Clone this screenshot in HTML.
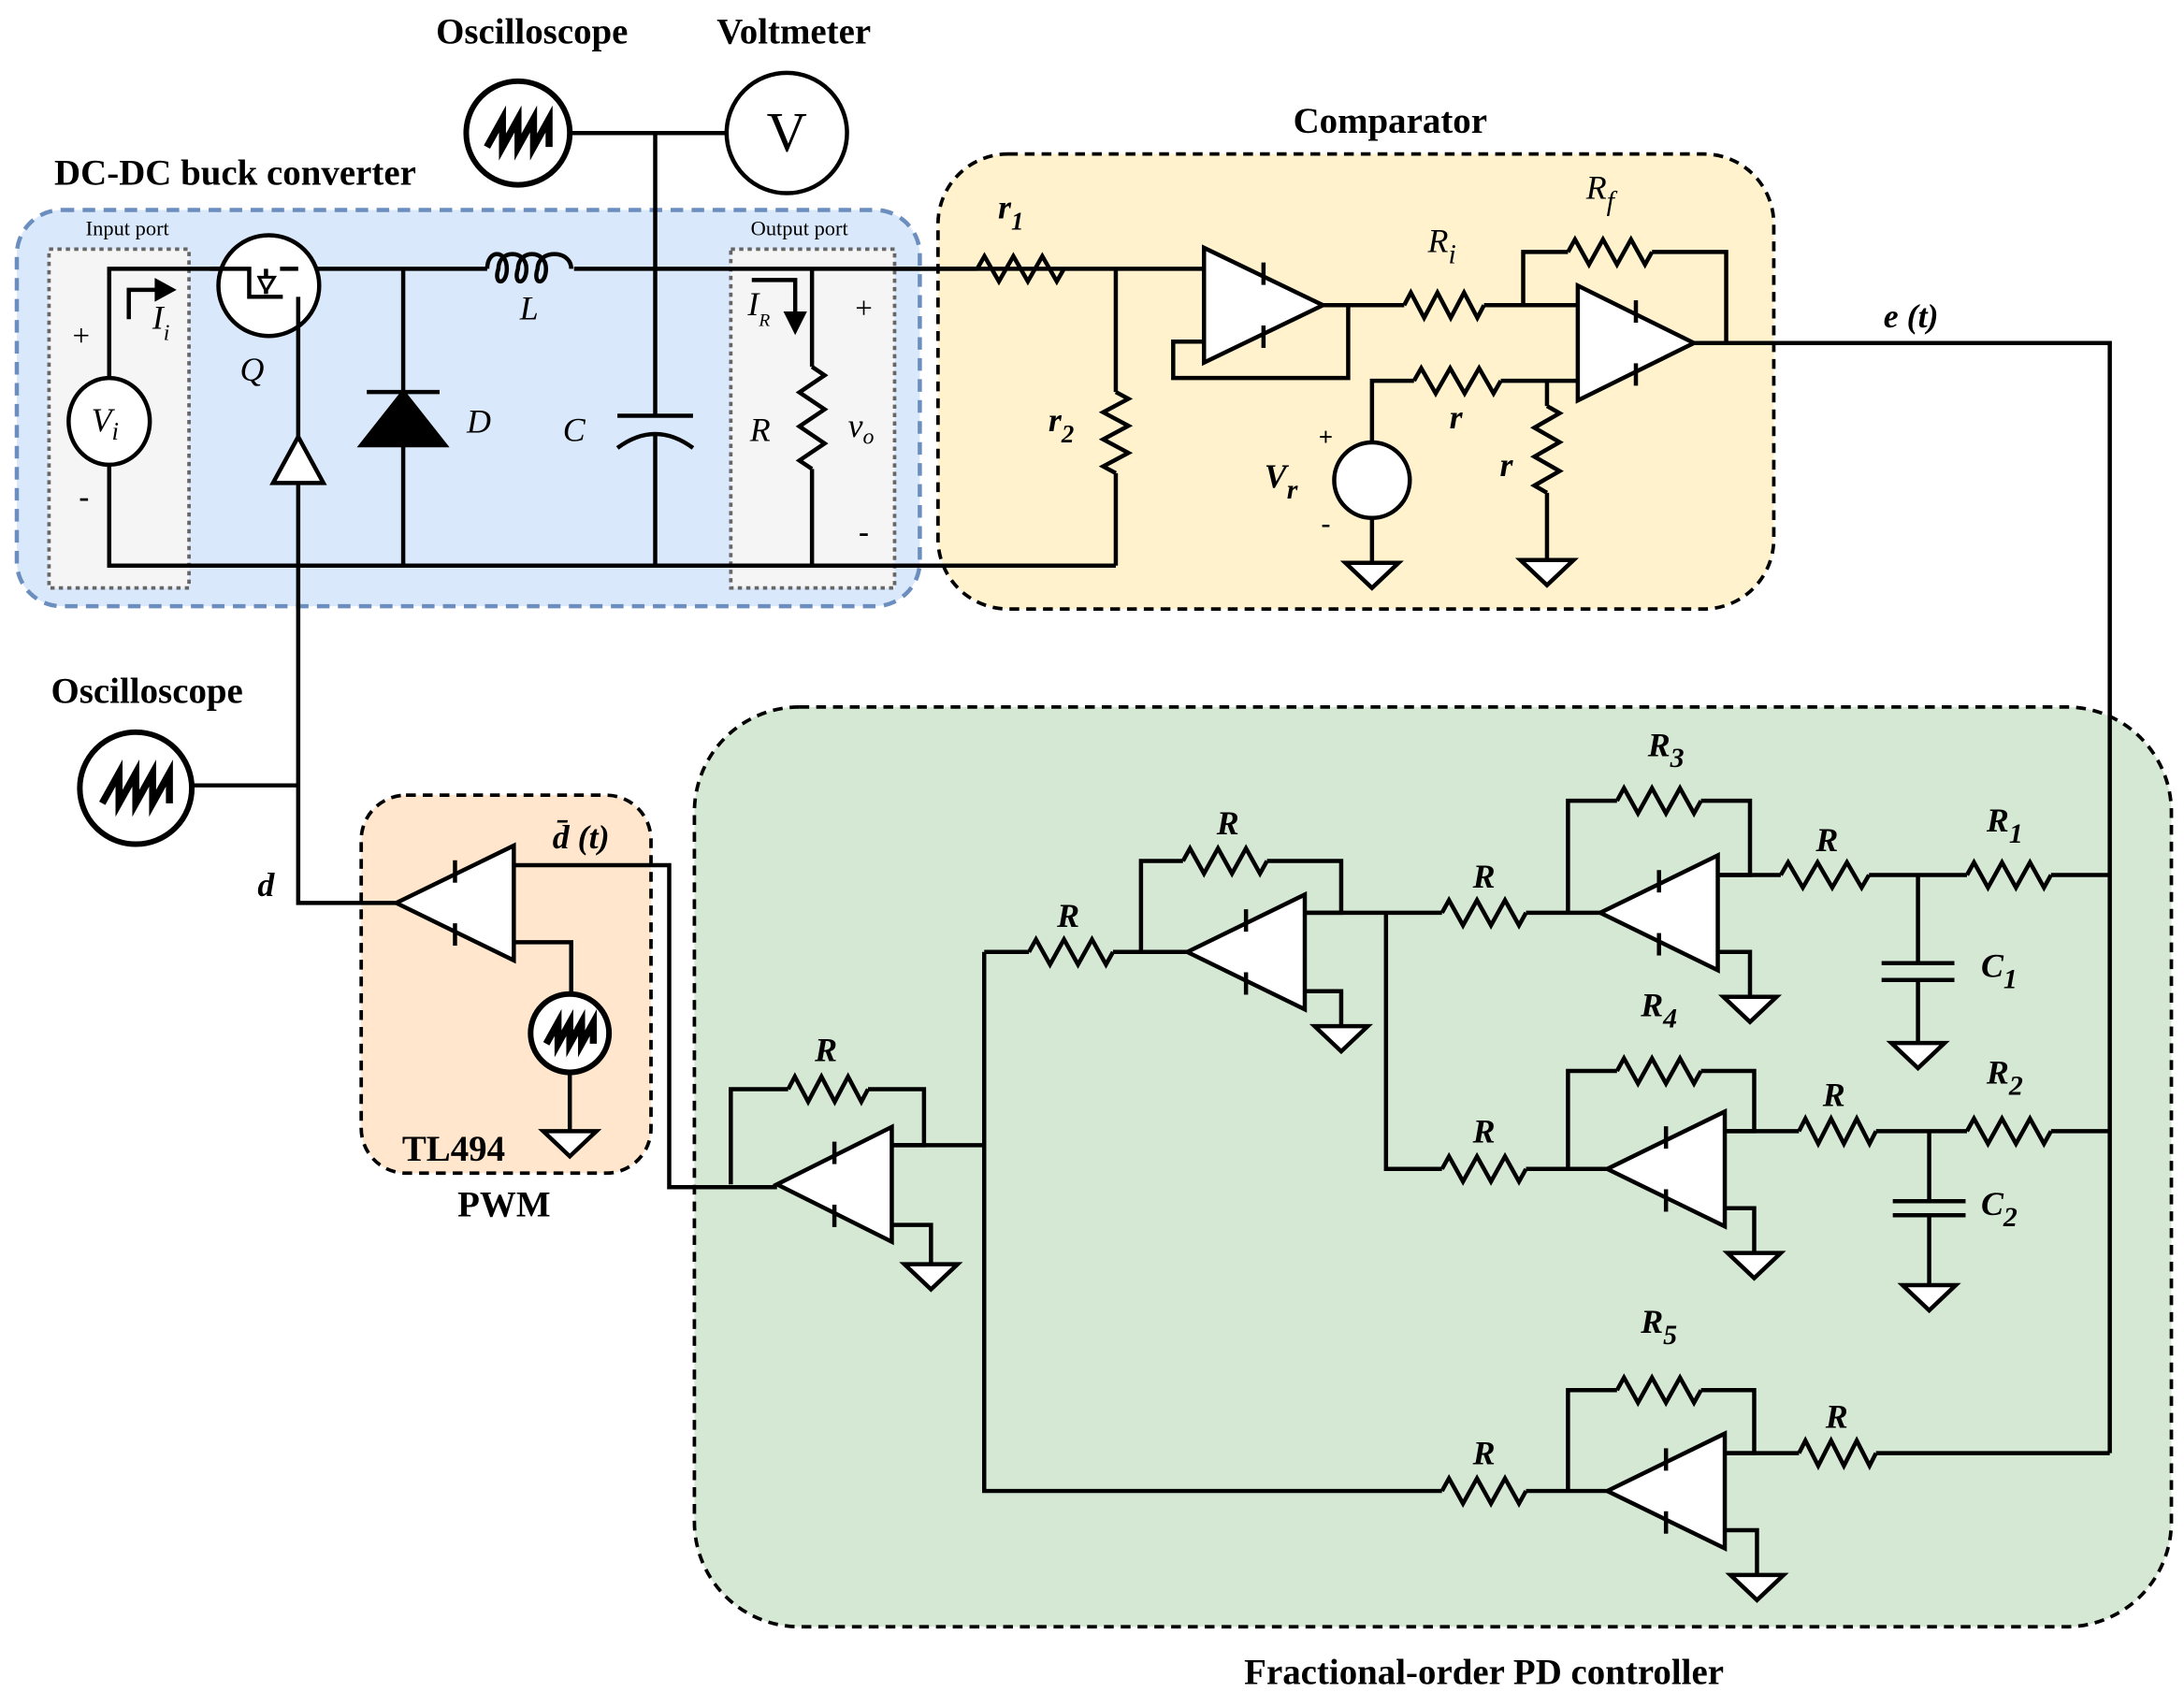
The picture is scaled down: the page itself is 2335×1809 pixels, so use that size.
<!DOCTYPE html>
<html><head><meta charset="utf-8"><style>
html,body{margin:0;padding:0;background:#fff}
svg{display:block}
text{font-family:"Liberation Serif",serif}
.t{font-weight:bold;font-size:26px;text-anchor:middle}
.l{font-style:italic;font-size:24px;text-anchor:middle}
.lb{font-style:italic;font-weight:bold;font-size:24px;text-anchor:middle}
</style></head><body>
<svg id="s" width="2335" height="1809" viewBox="0 0 1560 1208.6" xmlns="http://www.w3.org/2000/svg">
<g id="bg">
<rect x="12" y="150" width="645" height="283" rx="32" fill="#dae8fc" stroke="#6c8ebf" stroke-width="3" stroke-dasharray="9,6"/>
<rect x="35" y="178" width="100" height="242" fill="#f5f5f5" stroke="#666" stroke-width="2.5" stroke-dasharray="3,3"/>
<rect x="522" y="178" width="117" height="242" fill="#f5f5f5" stroke="#666" stroke-width="2.5" stroke-dasharray="3,3"/>
<rect x="670" y="110" width="597" height="325" rx="50" fill="#fff2cc" stroke="#000" stroke-width="2.5" stroke-dasharray="7,5"/>
<rect x="258" y="568" width="207" height="270" rx="32" fill="#ffe6cc" stroke="#000" stroke-width="2.5" stroke-dasharray="7,5"/>
<rect x="496" y="505" width="1055" height="657" rx="75" fill="#d5e8d4" stroke="#000" stroke-width="2.5" stroke-dasharray="7,5"/>
</g>
<g id="w" fill="none" stroke="#000" stroke-width="3"></g>
<g id="tx">
<text class="t" x="380" y="31">Oscilloscope</text>
<text class="t" x="567" y="31">Voltmeter</text>
<text class="t" x="168" y="132">DC-DC buck converter</text>
<text class="t" x="993" y="95">Comparator</text>
<text class="t" x="105" y="502">Oscilloscope</text>
<text class="t" x="324" y="829">TL494</text>
<text class="t" x="360" y="869">PWM</text>
<text class="t" x="1060" y="1203">Fractional-order PD controller</text>
<text x="91" y="168" font-size="15" text-anchor="middle">Input port</text>
<text x="571" y="168" font-size="15" text-anchor="middle">Output port</text>
<text x="58" y="247" font-size="22" text-anchor="middle">+</text>
<text x="60" y="362" font-size="22" text-anchor="middle" font-weight="bold">-</text>
<text x="617" y="227" font-size="22" text-anchor="middle">+</text>
<text x="617" y="387" font-size="22" text-anchor="middle" font-weight="bold">-</text>
<text class="l" x="75" y="308">V<tspan font-size="18" dy="6">i</tspan></text>
<text class="l" x="115" y="235">I<tspan font-size="16" dy="8">i</tspan></text>
<text class="l" x="542" y="225">I<tspan font-size="13" dy="8">R</tspan></text>
<text class="l" x="180" y="272">Q</text>
<text class="l" x="342" y="309">D</text>
<text class="l" x="378" y="228">L</text>
<text class="l" x="410" y="315">C</text>
<text class="l" x="543" y="315">R</text>
<text class="l" x="615" y="312">v<tspan font-size="16" dy="5">o</tspan></text>
<text x="562" y="108" font-size="40" text-anchor="middle">V</text>
<text class="lb" x="722" y="156">r<tspan font-size="18" dy="8">1</tspan></text>
<text class="lb" x="758" y="308">r<tspan font-size="18" dy="8">2</tspan></text>
<text class="l" x="1030" y="180">R<tspan font-size="20" dy="8">i</tspan></text>
<text class="l" x="1143" y="142">R<tspan font-size="20" dy="8">f</tspan></text>
<text class="lb" x="1040" y="306">r</text>
<text class="lb" x="1076" y="340">r</text>
<text class="lb" x="915" y="348">V<tspan font-size="20" dy="8">r</tspan></text>
<text x="947" y="318" font-size="18" font-weight="bold" text-anchor="middle">+</text>
<text x="947" y="380" font-size="20" font-weight="bold" text-anchor="middle">-</text>
<text class="lb" x="1365" y="234">e (t)</text>
<text class="lb" x="190" y="640">d</text>
<text class="lb" x="415" y="606">d̄ (t)</text>
<text class="lb" x="590" y="758">R</text>
<text class="lb" x="763" y="662">R</text>
<text class="lb" x="877" y="596">R</text>
<text class="lb" x="1060" y="634">R</text>
<text class="lb" x="1190" y="540">R<tspan font-size="20" dy="8">3</tspan></text>
<text class="lb" x="1305" y="608">R</text>
<text class="lb" x="1432" y="594">R<tspan font-size="20" dy="8">1</tspan></text>
<text class="lb" x="1428" y="698">C<tspan font-size="20" dy="8">1</tspan></text>
<text class="lb" x="1060" y="816">R</text>
<text class="lb" x="1185" y="726">R<tspan font-size="20" dy="8">4</tspan></text>
<text class="lb" x="1310" y="790">R</text>
<text class="lb" x="1432" y="774">R<tspan font-size="20" dy="8">2</tspan></text>
<text class="lb" x="1428" y="868">C<tspan font-size="20" dy="8">2</tspan></text>
<text class="lb" x="1185" y="952">R<tspan font-size="20" dy="8">5</tspan></text>
<text class="lb" x="1060" y="1046">R</text>
<text class="lb" x="1312" y="1020">R</text>
</g>
</svg>
<script>
var W=document.getElementById('w'),o='';
function P(d,ex){o+='<path d="'+d+'" '+(ex||'')+'/>';}
function L(pts){P('M'+pts.join(' L'));}
function RH(x1,x2,y){var n=6,s=(x2-x1)/n,d='M'+x1+','+y;d+=' L'+(x1+s/2)+','+(y-9);for(var i=1;i<n;i++)d+=' L'+(x1+s/2+i*s)+','+(i%2?y+9:y-9);d+=' L'+x2+','+y;P(d);}
function RV(x,y1,y2){var n=6,s=(y2-y1)/n,d='M'+x+','+y1;d+=' L'+(x+9)+','+(y1+s/2);for(var i=1;i<n;i++)d+=' L'+(i%2?x-9:x+9)+','+(y1+s/2+i*s);d+=' L'+x+','+y2;P(d);}
function OA(tx,ty,bx,h){var m=(tx+bx)/2;P('M'+bx+','+(ty-h/2)+' L'+tx+','+ty+' L'+bx+','+(ty+h/2)+'Z','fill="#fff"');
P('M'+m+','+(ty-h/4-10)+' L'+m+','+(ty-h/4+6));P('M'+m+','+(ty+h/4-6)+' L'+m+','+(ty+h/4+10));}
function G(x,y){P('M'+(x-19)+','+y+' L'+(x+19)+','+y+' L'+x+','+(y+18)+'Z','fill="#fff"');}
function SAW(cx,cy,r){o+='<circle cx="'+cx+'" cy="'+cy+'" r="'+r+'" fill="#fff" stroke-width="4"/>';var a=r*0.6,d='M'+(cx-a)+','+(cy+a*0.45);for(var i=0;i<4;i++){var x=cx-a+i*a/2;d+=' L'+(x+a/2)+','+(cy-a*0.45)+' L'+(x+a/2)+','+(cy+a*0.45);}P(d,'stroke-width="5"');}
// buck
L(['78,270','78,192','860,192']);L(['78,332','78,404','797,404']);
o+='<ellipse cx="78" cy="301" rx="29" ry="31" fill="#fff"/>';
L(['92,228','92,207','118,207']);P('M112,201 L123,207 L112,213Z','fill="#000"');
L(['537,200','568,200','568,228']);P('M562,224 L568,236 L574,224Z','fill="#000"');
o+='<circle cx="192" cy="204" r="36" fill="#fff"/>';
L(['150,192','178,192','178,212','202,212']);L(['190,192','190,210']);L(['200,192','213,192']);P('M185,198 L196,198 L190,208Z','fill="#fff" stroke-width="2"');
L(['213,212','213,404']);L(['213,404','213,645','283,645']);
P('M195,345 L231,345 L213,312Z','fill="#fff"');
L(['288,192','288,404']);P('M258,318 L318,318 L288,280Z','fill="#000"');L(['262,280','314,280']);
o+='<rect x="348" y="186" width="62" height="10" fill="#dae8fc" stroke="none"/>';
P('M348,192 C348,178 362,178 362,192 C362,204 352,204 356,192 C356,178 376,178 376,192 C376,204 366,204 370,192 C370,178 390,178 390,192 C390,204 380,204 384,192 C384,178 408,178 408,192');
L(['468,95','468,297']);L(['441,297','495,297']);P('M441,320 Q468,300 495,320');L(['468,310','468,404']);
L(['407,95','519,95']);SAW(370,95,37);o+='<circle cx="562" cy="95" r="43" fill="none"/>';
L(['580,192','580,262']);RV(580,262,335);L(['580,335','580,404']);
// comparator
L(['640,192','698,192']);RH(698,760,192);L(['797,192','797,280']);RV(797,280,338);L(['797,338','797,404']);
OA(945,218,860,82);L(['945,218','963,218','963,270','838,270','838,244','860,244']);
L(['963,218','1003,218']);RH(1003,1060,218);L(['1060,218','1127,218']);
OA(1210,245,1127,82);L(['1088,218','1088,180','1120,180']);RH(1120,1180,180);L(['1180,180','1233,180','1233,245']);
L(['1210,245','1507,245','1507,1038']);
L(['980,318','980,272','1010,272']);RH(1010,1072,272);L(['1072,272','1127,272']);
o+='<circle cx="980" cy="343" r="27" fill="#fff"/>';L(['980,370','980,402']);G(980,402);
L(['1105,272','1105,290']);RV(1105,290,352);L(['1105,352','1105,400']);G(1105,400);
// scope left
SAW(97,563,40);L(['137,561','213,561']);
// PWM
OA(283,645,367,82);L(['367,618','478,618','478,848','555,848']);L(['367,673','408,673','408,710']);SAW(407,738,28);L(['407,766','407,808']);G(407,808);
// stage A
OA(555,846,637,82);L(['522,846','522,778','563,778']);RH(563,620,778);L(['620,778','660,778','660,818','637,818']);
L(['637,818','703,818']);L(['637,875','665,875','665,903']);G(665,903);
L(['703,680','703,1065','1030,1065']);L(['703,680','735,680']);RH(735,795,680);L(['795,680','848,680']);
// stage B
OA(848,680,932,82);L(['815,680','815,615','845,615']);RH(845,905,615);L(['905,615','958,615','958,652','932,652']);
L(['932,652','1030,652']);L(['932,708','958,708','958,733']);G(958,733);
L(['990,652','990,835','1030,835']);RH(1030,1090,652);L(['1090,652','1143,652']);
// stage C
OA(1143,652,1227,82);L(['1120,652','1120,572','1155,572']);RH(1155,1215,572);L(['1215,572','1250,572','1250,625','1227,625']);
L(['1227,625','1272,625']);RH(1272,1335,625);L(['1335,625','1405,625']);RH(1405,1465,625);L(['1465,625','1507,625']);
L(['1370,625','1370,688']);L(['1344,688','1396,688']);L(['1344,700','1396,700']);L(['1370,700','1370,745']);G(1370,745);
L(['1227,680','1250,680','1250,712']);G(1250,712);
// stage D
RH(1030,1090,835);L(['1090,835','1148,835']);
OA(1148,835,1232,82);L(['1120,835','1120,765','1155,765']);RH(1155,1215,765);L(['1215,765','1253,765','1253,808','1232,808']);
L(['1232,808','1285,808']);RH(1285,1340,808);L(['1340,808','1405,808']);RH(1405,1465,808);L(['1465,808','1507,808']);
L(['1378,808','1378,858']);L(['1352,858','1404,858']);L(['1352,868','1404,868']);L(['1378,868','1378,918']);G(1378,918);
L(['1232,863','1253,863','1253,895']);G(1253,895);
// stage E
RH(1030,1090,1065);L(['1090,1065','1148,1065']);
OA(1148,1065,1232,82);L(['1120,1065','1120,993','1155,993']);RH(1155,1215,993);L(['1215,993','1253,993','1253,1038','1232,1038']);
L(['1232,1038','1285,1038']);RH(1285,1340,1038);L(['1340,1038','1507,1038']);
L(['1232,1093','1255,1093','1255,1125']);G(1255,1125);
W.innerHTML=o;
</script>
</body></html>
